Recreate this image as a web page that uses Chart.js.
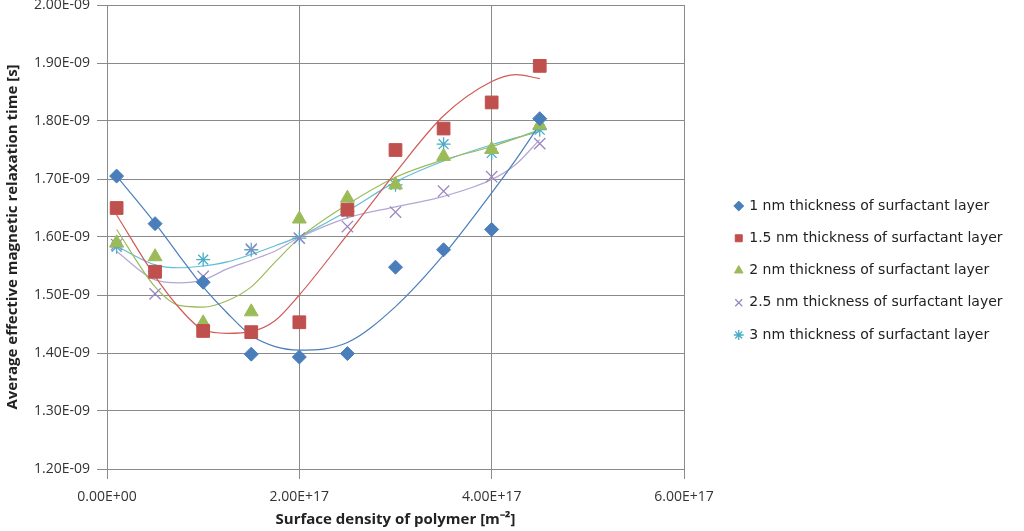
<!DOCTYPE html>
<html>
<head>
<meta charset="utf-8">
<script src="https://cdn.jsdelivr.net/npm/chart.js@4/dist/chart.umd.min.js"></script>
<style>
  html, body { margin: 0; padding: 0; background: #fff; }
  #wrap { width: 1024px; height: 531px; }
</style>
</head>
<body>
<div id="wrap"><canvas id="chart" width="1024" height="531"></canvas></div>
<script>
// x in units of 1e17 m^-2, y in units of 1e-9 s
const xMeasured = [0.1, 0.5, 1.0, 1.5, 2.0, 2.5, 3.0, 3.5, 4.0, 4.5];

const seriesNames = [
  "1 nm thickness of surfactant layer",
  "1.5 nm thickness of surfactant layer",
  "2 nm thickness of surfactant layer",
  "2.5 nm thickness of surfactant layer",
  "3 nm thickness of surfactant layer",
];

// measured points, one array per layer thickness
const tau1nm  = [1.705, 1.623, 1.522, 1.398, 1.393, 1.399, 1.548, 1.578, 1.613, 1.804];
const tau15nm = [1.650, 1.540, 1.438, 1.436, 1.453, 1.647, 1.750, 1.787, 1.832, 1.895];
const tau2nm  = [1.590, 1.566, 1.452, 1.471, 1.631, 1.667, 1.690, 1.739, 1.751, 1.793];
const tau25nm = [1.587, 1.502, 1.532, 1.579, 1.598, 1.618, 1.643, 1.679, 1.704, 1.761];
const tau3nm  = [1.583, 1.541, 1.561, 1.578, 1.598, 1.644, 1.690, 1.760, 1.745, 1.785];

// trend curves
const xTrend = [0.1, 0.5, 0.75, 1.0, 1.25, 1.5, 1.75, 2.0, 2.5, 3.0, 3.5, 4.0, 4.25, 4.5];
const trend1nm  = [1.705, 1.624, 1.568, 1.514, 1.469, 1.430, 1.411, 1.405, 1.418, 1.480, 1.569, 1.676, 1.733, 1.794];
const trend15nm = [1.638, 1.532, 1.478, 1.440, 1.434, 1.437, 1.456, 1.500, 1.604, 1.711, 1.809, 1.868, 1.880, 1.873];
const trend2nm  = [1.613, 1.514, 1.482, 1.479, 1.490, 1.514, 1.557, 1.598, 1.656, 1.703, 1.733, 1.756, 1.770, 1.785];
const trend25nm = [1.575, 1.526, 1.521, 1.526, 1.545, 1.560, 1.576, 1.599, 1.633, 1.652, 1.670, 1.699, 1.725, 1.768];
const trend3nm  = [1.584, 1.552, 1.547, 1.550, 1.557, 1.570, 1.585, 1.601, 1.645, 1.695, 1.731, 1.759, 1.771, 1.782];

const yTicksMin = 1.2, yTicksMax = 2.0, yStep = 0.1;
const xTicksMin = 0, xTicksMax = 6, xStep = 2;

const colors = ["#4a7ebb", "#c0504d", "#9bbb59", "#9a86c0", "#4bacc6"];
const trendColors = ["#4a7ebb", "#d05a57", "#9bbb59", "#b4a6d4", "#62bdd6"];
const markerStyle = [
  { pointStyle: "rectRot", pointRadius: 7, pointBorderWidth: 1 },
  { pointStyle: "rect", pointRadius: 9, pointBorderWidth: 1 },
  { pointStyle: "triangle", pointRadius: 8, pointBorderWidth: 1 },
  { pointStyle: "crossRot", pointRadius: 8, pointBorderWidth: 1.3 },
  { pointStyle: "star", pointRadius: 7, pointBorderWidth: 1.3 },
];

const measured = [tau1nm, tau15nm, tau2nm, tau25nm, tau3nm];
const trends = [trend1nm, trend15nm, trend2nm, trend25nm, trend3nm];

const pts = (xs, ys) => xs.map((x, i) => ({ x, y: ys[i] }));

const datasets = [];
measured.forEach((ys, i) => {
  datasets.push({
    label: seriesNames[i],
    data: pts(xMeasured, ys),
    showLine: false,
    backgroundColor: colors[i],
    borderColor: colors[i],
    pointStyle: markerStyle[i].pointStyle,
    pointRadius: markerStyle[i].pointRadius,
    pointBorderWidth: markerStyle[i].pointBorderWidth,
    order: 0,
  });
});
trends.forEach((ys, i) => {
  datasets.push({
    label: "trend",
    data: pts(xTrend, ys),
    showLine: true,
    borderColor: trendColors[i],
    borderWidth: 1.2,
    pointRadius: 0,
    cubicInterpolationMode: "monotone",
    fill: false,
    order: 1,
  });
});

const FONT = "'Open Sans', sans-serif";
const LEGEND_FONT = "'DejaVu Sans', sans-serif";

// legend width is capped by the layout, so move/widen it to where the reference has it
const legendShift = {
  id: "legendShift",
  afterLayout(chart) {
    const lg = chart.legend;
    if (!lg) return;
    const dx = 33, dy = 2.5;
    lg.left += dx;
    lg.right = chart.width;
    lg.width = lg.right - lg.left;
    lg.top += dy; lg.bottom += dy;
  },
};

new Chart(document.getElementById("chart"), {
  type: "scatter",
  data: { datasets },
  plugins: [legendShift],
  options: {
    responsive: false,
    animation: false,
    layout: { autoPadding: false, padding: { top: 5, right: 112, left: 0, bottom: 0 } },
    plugins: {
      tooltip: { enabled: false },
      legend: {
        position: "right",
        labels: {
          filter: (item) => item.text !== "trend",
          usePointStyle: true,
          boxWidth: 7,
          boxHeight: 7,
          padding: 18.25,
          color: "#222",
          font: { family: LEGEND_FONT, size: 14 },
        },
      },
    },
    scales: {
      x: {
        type: "linear",
        min: xTicksMin,
        max: xTicksMax,
        ticks: {
          stepSize: xStep,
          color: "#333",
          padding: 10,
          font: { family: FONT, size: 14 },
          callback: (v) => (v === 0 ? "0.00E+00" : v.toFixed(2) + "E+17"),
        },
        grid: { color: "#8a8a8a", tickLength: 10, tickColor: "#8a8a8a" },
        border: { color: "#8a8a8a" },
        title: {
          display: true,
          text: "Surface density of polymer [m\u207B\u00B2]",
          color: "#222",
          font: { family: FONT, size: 15, weight: "bold" },
          padding: { top: 0, bottom: 2 },
        },
        afterFit: (s) => { s.height = 62; },
      },
      y: {
        type: "linear",
        min: yTicksMin,
        max: yTicksMax,
        ticks: {
          stepSize: yStep,
          color: "#333",
          padding: 7,
          font: { family: FONT, size: 14 },
          callback: (v) => v.toFixed(2) + "E-09",
        },
        grid: { color: "#8a8a8a", tickLength: 10, tickColor: "#8a8a8a" },
        border: { color: "#8a8a8a" },
        title: {
          display: true,
          text: "Average effective magnetic relaxation time [s]",
          color: "#222",
          font: { family: FONT, size: 15, weight: "bold" },
          padding: { top: 3.5, bottom: 0 },
        },
        afterFit: (s) => { s.width = 107; s.paddingTop = 0; s.paddingBottom = 0; },
      },
    },
  },
});
</script>
</body>
</html>
